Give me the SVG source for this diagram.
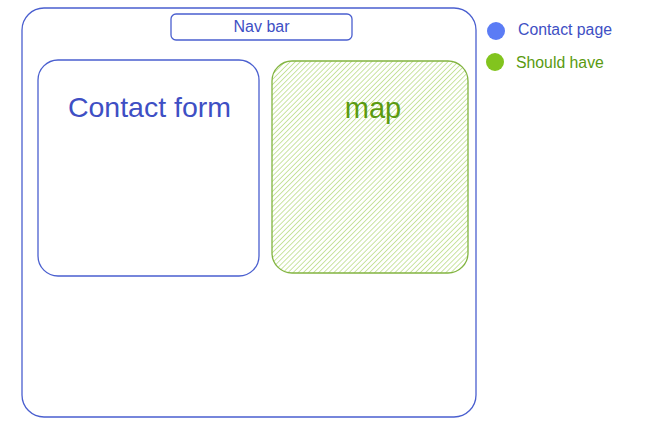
<svg xmlns="http://www.w3.org/2000/svg" width="648" height="437" viewBox="0 0 648 437">
<defs>
<pattern id="hatch" patternUnits="userSpaceOnUse" width="3.6" height="3.6" patternTransform="rotate(45)">
<line x1="0" y1="0" x2="0" y2="3.6" stroke="#b3d97a" stroke-width="1.4"/>
</pattern>
<style>
.blue{fill:none;stroke:#4a5fcf;stroke-width:1.3}
.t{font-family:"Liberation Sans",Arial,sans-serif;text-anchor:middle}
.l{font-family:"Liberation Sans",Arial,sans-serif;font-size:15.8px}
</style>
</defs>
<rect width="648" height="437" fill="#fff"/>
<g id="page"><rect class="blue" x="22" y="8" width="454" height="409" rx="22"/></g>
<g id="navbar"><rect class="blue" x="171" y="14" width="181" height="26" rx="5"/>
<text class="t" x="261.5" y="32" font-size="16" fill="#3e4fc4">Nav bar</text></g>
<g id="contactform"><rect class="blue" x="38" y="60" width="221" height="216" rx="20"/>
<text class="t" x="149.5" y="117" font-size="28.5" fill="#3e4fc4">Contact form</text></g>
<g id="map"><rect x="272" y="61" width="196" height="212" rx="20" fill="url(#hatch)" stroke="#82b440" stroke-width="1.3"/>
<text class="t" x="373" y="118" font-size="29" fill="#5a9a10">map</text></g>
<g id="legend">
<circle cx="496" cy="31" r="9" fill="#5b7cf5"/>
<text class="l" x="518" y="35" fill="#3e4fc4">Contact page</text>
<circle cx="495" cy="62" r="9" fill="#82c41e"/>
<text class="l" x="516" y="68" fill="#5a9a10">Should have</text>
</g>
<g id="connectors"/>
</svg>
